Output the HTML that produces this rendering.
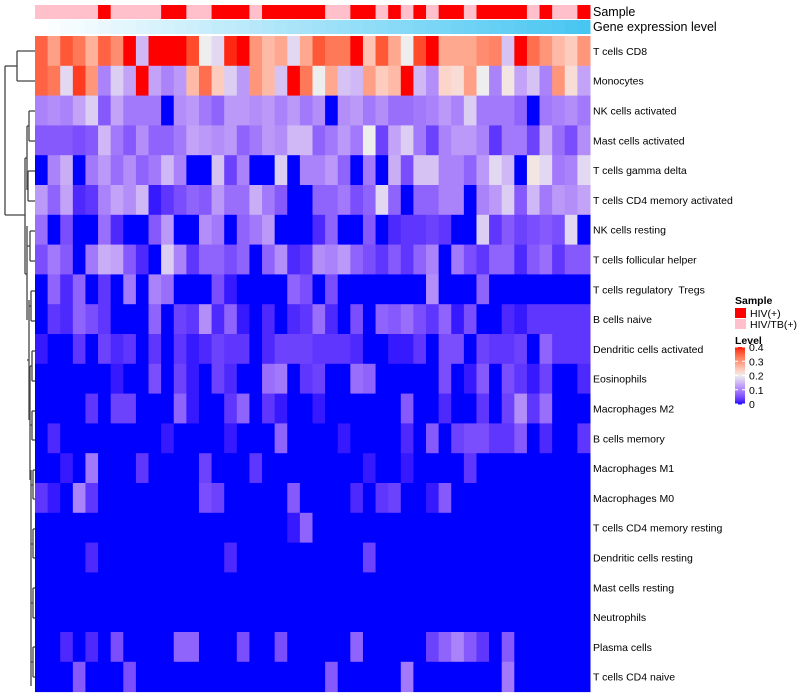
<!DOCTYPE html>
<html><head><meta charset="utf-8"><style>
html,body{margin:0;padding:0;background:#fff;}
svg{display:block;font-family:"Liberation Sans",sans-serif;}
svg text{white-space:pre;}
</style></head><body>
<svg id="chart" width="800" height="700" viewBox="0 0 800 700"></svg>
<script>
const rowLabels=["T cells CD8","Monocytes","NK cells activated","Mast cells activated","T cells gamma delta","T cells CD4 memory activated","NK cells resting","T cells follicular helper","T cells regulatory  Tregs","B cells naive","Dendritic cells activated","Eosinophils","Macrophages M2","B cells memory","Macrophages M1","Macrophages M0","T cells CD4 memory resting","Dendritic cells resting","Mast cells resting","Neutrophils","Plasma cells","T cells CD4 naive"];
const sampleGroups=["P","P","P","P","P","R","P","P","P","P","R","R","P","P","R","R","R","P","R","R","R","R","R","P","P","R","R","P","R","P","R","P","R","R","P","R","R","R","R","P","R","P","P","R"];
const geneLevel=[0,1,2,3,4,5,6,7,8,9,10,11,12,13,14,15,16,17,18,19,20,21,22,23,24,25,26,27,28,29,30,31,32,33,34,35,36,37,38,39,40,41,42,43];
const r0=[.35,.29,.36,.33,.27,.35,.31,.42,.15,.45,.45,.45,.37,.2,.18,.39,.42,.3,.26,.28,.18,.28,.36,.33,.33,.42,.25,.36,.28,.2,.37,.4,.28,.28,.28,.31,.32,.16,.42,.34,.3,.26,.24,.3];
const r1=[.35,.33,.18,.38,.3,.1,.17,.13,.42,.13,.1,.12,.26,.34,.24,.17,.12,.3,.26,.16,.42,.33,.2,.28,.16,.15,.29,.24,.26,.42,.15,.11,.23,.22,.29,.2,.1,.21,.13,.16,.1,.3,.22,.13];
const r2=[.1,.11,.1,.13,.17,.06,.13,.09,.09,.09,0,.11,.12,.09,.07,.12,.12,.11,.12,.1,.12,.09,.11,0,.11,.12,.09,.11,.08,.08,.09,.1,.12,.1,.17,.09,.09,.09,.07,0,.09,.1,.11,.09];
const r3=[.06,.06,.06,.05,.06,.15,.09,.06,.11,.07,.07,.09,.13,.12,.11,.12,.07,.09,.12,.11,.15,.15,.07,.09,.12,.09,.2,.04,.13,.17,.09,.04,.1,.12,.12,.1,.03,.09,.09,.04,.14,.08,.05,.11];
const r4=[0,.1,.14,0,.09,.12,.08,.11,.07,.09,.15,.1,0,0,.16,.04,.1,0,0,.17,0,.1,.1,.12,.07,0,.09,0,.14,.05,.16,.16,.1,.1,.07,.12,.18,.15,0,.21,.18,.09,.1,.18];
const r5=[.12,.07,.13,.02,.03,.1,.13,.11,.15,.01,.03,.05,.07,.06,.12,.08,.08,.14,.09,.06,0,0,.07,.07,.09,.05,.07,.18,.07,0,.07,.07,.1,.1,0,.1,.12,.17,.06,.15,.09,.12,.11,.13];
const r6=[.08,0,.05,0,0,.08,.02,0,0,.06,.12,0,0,.11,.09,0,.07,.09,.12,0,0,0,.02,.07,0,0,.06,0,.02,.03,.03,.04,.03,0,0,.17,.03,.06,.04,.05,.06,.05,.18,0];
const r7=[.05,.09,.06,0,.09,.14,.13,.06,.02,0,.17,.1,.03,.07,.07,.05,.07,0,.07,.11,.02,.03,.11,.1,.12,.07,.05,.03,.06,.03,.07,.1,0,.09,.05,.03,.07,.07,.02,.06,.08,.03,.06,.06];
const r8=[0,.07,.02,.07,0,.03,0,.09,0,.1,.08,0,0,0,.05,.01,0,0,0,0,.07,.05,0,.05,0,0,0,0,0,0,0,.11,0,0,0,.07,0,0,0,0,0,0,0,0];
const r9=[0,.03,.02,.07,.05,.03,0,0,0,.07,0,.04,.03,.11,.02,.07,.01,0,.02,0,.02,.03,.08,.02,0,.05,0,.07,.06,.08,.05,.03,.07,.01,.05,0,0,.02,.01,.03,.03,.03,.03,.03];
const r10=[.01,0,0,.03,0,.04,.02,.03,0,.03,0,.03,.01,.02,.04,.03,.03,0,.02,.04,.04,.04,.03,.03,.03,.02,0,0,.01,.01,.03,0,.05,.05,0,.04,.03,.03,.04,0,.07,.03,.03,.03];
const r11=[0,0,0,0,0,0,.01,0,0,.05,0,.04,.01,0,.04,.02,0,0,.08,.09,0,.03,.04,0,0,.08,.07,0,0,0,0,0,.05,0,.01,.06,0,.05,.03,.01,.04,0,0,.02];
const r12=[0,0,0,0,.03,0,.04,.04,0,0,0,.07,.01,0,0,.03,.07,0,.03,.01,0,0,.01,0,0,0,0,0,0,.06,0,0,.02,0,0,.03,0,.04,.11,.03,.08,0,0,0];
const r13=[0,.02,0,0,0,0,0,0,0,0,.01,0,0,0,0,.01,0,0,0,.07,0,0,0,0,.01,0,0,0,0,.02,0,.06,0,.04,.05,.05,.03,.03,.06,0,.02,0,0,.03];
const r14=[0,0,.01,0,.09,0,0,0,.03,0,0,0,0,.04,0,0,0,.03,0,0,0,0,0,0,0,0,.01,0,0,.01,0,0,0,0,.03,0,0,0,0,0,0,0,0,0];
const r15=[.03,.01,0,.1,.03,0,0,0,0,0,0,0,0,.05,.04,0,0,0,0,0,.06,0,0,0,0,.02,0,.03,.04,0,0,.01,.06,0,0,0,0,0,0,0,0,0,0,0];
const r16=[0,0,0,0,0,0,0,0,0,0,0,0,0,0,0,0,0,0,0,0,.01,.07,0,0,0,0,0,0,0,0,0,0,0,0,0,0,0,0,0,0,0,0,0,0];
const r17=[0,0,0,0,.02,0,0,0,0,0,0,0,0,0,0,.02,0,0,0,0,0,0,0,0,0,0,.04,0,0,0,0,0,0,0,0,0,0,0,0,0,0,0,0,0];
const r18=[0,0,0,0,0,0,0,0,0,0,0,0,0,0,0,0,0,0,0,0,0,0,0,0,0,0,0,0,0,0,0,0,0,0,0,0,0,0,0,0,0,0,0,0];
const r19=[0,0,0,0,0,0,0,0,0,0,0,0,0,0,0,0,0,0,0,0,0,0,0,0,0,0,0,0,0,0,0,0,0,0,0,0,0,0,0,0,0,0,0,0];
const r20=[0,0,.02,0,.02,0,.05,0,0,0,0,.07,.07,0,0,0,.05,0,0,.05,0,0,0,0,0,.07,0,0,0,0,0,.04,.07,.1,.06,.03,0,.06,0,0,0,0,0,0];
const r21=[0,0,0,.06,0,0,0,.05,0,0,0,0,0,0,0,0,0,0,0,0,0,0,0,.06,0,0,0,0,0,.09,0,0,0,0,0,0,0,.09,0,0,0,0,0,0];
const matrix=[r0,r1,r2,r3,r4,r5,r6,r7,r8,r9,r10,r11,r12,r13,r14,r15,r16,r17,r18,r19,r20,r21];
const legendTicks=[0,0.1,0.2,0.3,0.4];
</script>
<script>
const NS="http://www.w3.org/2000/svg";
const svg=document.getElementById('chart');
const X0=35,X1=590,Y0=36,RH=29.8;
const nCol=44;
const CW=(X1-X0)/nCol;
function xPos(c){return X0+c*CW;}
function yPos(r){return Y0+r*RH;}
function mk(tag,attrs,parent){const e=document.createElementNS(NS,tag);for(const k in attrs)e.setAttribute(k,attrs[k]);(parent||svg).appendChild(e);return e;}
function s2l(c){c/=255;return c<=0.04045?c/12.92:Math.pow((c+0.055)/1.055,2.4);}
function l2s(c){c=c<=0.0031308?12.92*c:1.055*Math.pow(c,1/2.4)-0.055;return Math.max(0,Math.min(255,Math.round(c*255)));}
function rgb2lab(r,g,b){r=s2l(r);g=s2l(g);b=s2l(b);
let x=(r*0.4124+g*0.3576+b*0.1805)/0.95047,y=r*0.2126+g*0.7152+b*0.0722,z=(r*0.0193+g*0.1192+b*0.9505)/1.08883;
const f=t=>t>0.008856?Math.cbrt(t):7.787*t+16/116;x=f(x);y=f(y);z=f(z);return[116*y-16,500*(x-y),200*(y-z)];}
function lab2rgb(L,a,b){let y=(L+16)/116,x=a/500+y,z=y-b/200;
const fi=t=>t*t*t>0.008856?t*t*t:(t-16/116)/7.787;x=fi(x)*0.95047;y=fi(y);z=fi(z)*1.08883;
const r=x*3.2406+y*-1.5372+z*-0.4986,g=x*-0.9689+y*1.8758+z*0.0415,bb=x*0.0557+y*-0.2040+z*1.0570;return[l2s(r),l2s(g),l2s(bb)];}
const LB=rgb2lab(0,0,255),LW=rgb2lab(238,238,238),LR=rgb2lab(255,0,0);
function color(v){v=Math.max(0,Math.min(0.4,v));let a,b,t;if(v<=0.2){a=LB;b=LW;t=v/0.2;}else{a=LW;b=LR;t=(v-0.2)/0.2;}
const c=lab2rgb(a[0]+(b[0]-a[0])*t,a[1]+(b[1]-a[1])*t,a[2]+(b[2]-a[2])*t);return `rgb(${c[0]},${c[1]},${c[2]})`;}
function geneColor(g){const t=g/43;const r=Math.round(255+(72-255)*t),gg=Math.round(255+(198-255)*t),b=Math.round(255+(242-255)*t);return `rgb(${r},${gg},${b})`;}

const gSample=mk('g',{});


sampleGroups.forEach((s,c)=>{const e=mk('rect',{x:xPos(c),y:5,width:CW+0.5,height:14,fill:s==='R'?'#FF0000':'#FFC0CB'},gSample);

});
const gGene=mk('g',{});


geneLevel.forEach((g,c)=>{const e=mk('rect',{x:xPos(c),y:20,width:CW+0.5,height:14,fill:geneColor(g)},gGene);

});
let t=mk('text',{x:593,y:16,'font-size':12.5,fill:'#000'});t.textContent='Sample';


t=mk('text',{x:593,y:31,'font-size':12.5,fill:'#000'});t.textContent='Gene expression level';



const gH=mk('g',{});


matrix.forEach((row,r)=>{row.forEach((v,c)=>{const e=mk('rect',{x:xPos(c),y:yPos(r),width:CW+0.5,height:RH+0.5,fill:color(v)},gH);

});
const l=mk('text',{x:593,y:yPos(r)+RH/2+4,'font-size':10.5,fill:'#000'});l.textContent=rowLabels[r];

});

const gD=mk('g',{stroke:'#444','stroke-width':1.3,fill:'none'});


const segs=[
[17,51,35,51],[17,81,35,81],[17,51,17,81],[5,66,17,66],[5,66,5,215],[5,215,25,215],
[25,158,25,274],[25,158,27,158],[25,274,27,274],
[29,111,35,111],[29,141,35,141],[29,111,29,141],[27,126,29,126],
[28,171,35,171],[28,201,35,201],[28,171,28,201],[27,186,28,186],[27,126,27,190],
[30,231,35,231],[30,261,35,261],[30,231,30,261],[27,246,30,246],[27,226,27,320],
[31,291,35,291],[31,321,35,321],[31,291,31,321],[29,306,31,306],[29,300,29,420],[27,360,29,360],
[32,351,35,351],[32,381,35,381],[32,351,32,381],[30,366,32,366],[30,366,30,480],
[32,411,35,411],[32,440,35,440],[32,411,32,440],[30,425,32,425],
[33,470,35,470],[33,499,35,499],[33,470,33,499],[31,470,31,686],[31,485,33,485],
[33,529,35,529],[33,558,35,558],[33,529,33,558],[31,544,33,544],
[33,588,35,588],[33,618,35,618],[33,588,33,618],[31,603,33,603],
[33,647,35,647],[33,677,35,677],[33,647,33,677],[31,662,33,662]];
segs.forEach(s=>{const e=mk('line',{x1:s[0],y1:s[1],x2:s[2],y2:s[3]},gD);

});

const gL=mk('g',{});


t=mk('text',{x:735,y:304,'font-size':10.5,'font-weight':'bold'},gL);t.textContent='Sample';


let e=mk('rect',{x:735,y:308,width:11,height:10,fill:'#FF0000'},gL);


t=mk('text',{x:750,y:317,'font-size':10.5},gL);t.textContent='HIV(+)';


e=mk('rect',{x:735,y:319,width:11,height:10,fill:'#FFC0CB'},gL);


t=mk('text',{x:750,y:328,'font-size':10.5},gL);t.textContent='HIV/TB(+)';


t=mk('text',{x:735,y:344,'font-size':10.5,'font-weight':'bold'},gL);t.textContent='Level';


const BT=347,BB=404;
function ly(v){return BB-(v/0.4)*(BB-BT);}
for(let i=0;i<40;i++){const v0=0.4-i*0.01;const r=mk('rect',{x:735,y:ly(v0),width:10,height:(BB-BT)/40+0.5,fill:color(v0-0.005)},gL);

}
legendTicks.forEach(v=>{const l=mk('line',{x1:735,x2:738,y1:ly(v),y2:ly(v),stroke:'#fff','stroke-width':1},gL);


const l2=mk('line',{x1:742,x2:745,y1:ly(v),y2:ly(v),stroke:'#fff','stroke-width':1},gL);


const tx=mk('text',{x:749,y:ly(v)+4,'font-size':10.5},gL);tx.textContent=String(v);

});
</script>
</body></html>
